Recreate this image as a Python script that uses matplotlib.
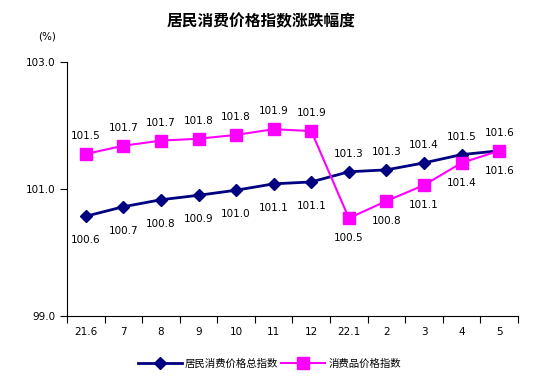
import matplotlib
matplotlib.use("Agg")
import matplotlib.pyplot as plt

plt.rcParams['font.family'] = ['Noto Sans CJK SC', 'DejaVu Sans']

# data
months = ['21.6', '7', '8', '9', '10', '11', '12', '22.1', '2', '3', '4', '5']
cpi = [100.57, 100.72, 100.83, 100.9, 100.98, 101.08, 101.11, 101.27, 101.3, 101.41, 101.54, 101.6]
consumer = [101.55, 101.68, 101.76, 101.79, 101.85, 101.94, 101.91, 100.54, 100.81, 101.06, 101.41, 101.6]
cpi_labels = ['100.6', '100.7', '100.8', '100.9', '101.0', '101.1', '101.1', '101.3', '101.3', '101.4', '101.5', '101.6']
consumer_labels = ['101.5', '101.7', '101.7', '101.8', '101.8', '101.9', '101.9', '100.5', '100.8', '101.1', '101.4', '101.6']
names = ['居民消费价格总指数', '消费品价格指数']

fig = plt.figure(figsize=(5.39, 3.84), dpi=100)
ax = fig.add_axes([0.1243, 0.177, 0.8367, 0.662])

x = list(range(len(months)))
ax.plot(x, cpi, color='#000080', lw=2, marker='D', ms=6.5, label=names[0])
ax.plot(x, consumer, color='#FF00FF', lw=1.5, marker='s', ms=8, label=names[1])

# value labels: before 22.1 cpi below / consumer above, after that swapped
for i in x:
    if i < 7:
        ax.annotate(cpi_labels[i], (i, cpi[i]), xytext=(0, -24), textcoords='offset pixels',
                    ha='center', va='center', fontsize=7.5, family='DejaVu Sans')
        ax.annotate(consumer_labels[i], (i, consumer[i]), xytext=(0, 18), textcoords='offset pixels',
                    ha='center', va='center', fontsize=7.5, family='DejaVu Sans')
    else:
        ax.annotate(cpi_labels[i], (i, cpi[i]), xytext=(0, 18), textcoords='offset pixels',
                    ha='center', va='center', fontsize=7.5, family='DejaVu Sans')
        ax.annotate(consumer_labels[i], (i, consumer[i]), xytext=(0, -20), textcoords='offset pixels',
                    ha='center', va='center', fontsize=7.5, family='DejaVu Sans')

ax.set_xlim(-0.5, len(months) - 0.5)
ax.set_ylim(99, 103)
ax.set_yticks([99, 101, 103])
ax.set_yticklabels(['99.0', '101.0', '103.0'], family='DejaVu Sans', fontsize=7.5)
ax.set_xticks([i - 0.5 for i in range(len(months) + 1)])
ax.set_xticklabels([])
ax.set_xticks(x, minor=True)
ax.set_xticklabels(months, minor=True, family='DejaVu Sans', fontsize=7.5)
ax.tick_params(axis='x', which='minor', length=0, pad=8)
ax.tick_params(axis='x', which='major', length=5, direction='out')
ax.tick_params(axis='y', length=5, direction='out')
ax.spines['top'].set_visible(False)
ax.spines['right'].set_visible(False)

fig.text(0.485, 0.945, '居民消费价格指数涨跌幅度', ha='center', va='center', fontsize=11.3, fontweight='bold')
fig.text(0.087, 0.905, '(%)', ha='center', va='center', fontsize=7.5, family='DejaVu Sans')

fig.legend(loc='center', bbox_to_anchor=(0.5, 0.052), ncol=2, frameon=False, fontsize=7.5,
           handlelength=4.2, columnspacing=0.3, handletextpad=0.3)

fig.savefig('out.png', dpi=100)
